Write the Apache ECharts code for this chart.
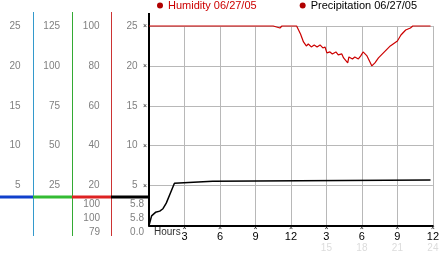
<!DOCTYPE html>
<html><head><meta charset="utf-8">
<script src="https://cdn.jsdelivr.net/npm/echarts@6/dist/echarts.min.js"></script>
<style>html,body{margin:0;padding:0;background:#fff}#c{width:442px;height:253px}</style>
</head><body><div id="c"></div>
<script>
// ---- data ----
const humHours = [0,10.5,10.66,11.07,11.24,12.48,12.64,12.81,13.06,13.14,13.3,13.47,13.72,13.97,14.21,14.46,14.7,14.88,15.04,15.3,15.5,15.8,16.0,16.3,16.45,16.6,16.8,16.9,17.2,17.4,17.7,17.9,18.1,18.26,18.43,18.68,18.84,18.93,19.1,19.4,19.9,20.4,21.0,21.3,21.7,22.1,22.3,23.8];
const humidity = [100,100,99,99,100,100,99,96,92,91,90,91,89.5,90.5,89.5,90.5,89,89.5,86.5,87,86,87,85.5,86,84,85,81.5,84.5,83.5,84.5,83.5,85,87,87,85,82,80,79,81.5,84,87,90,92.5,95.5,98,99,100,100];
const precHours = [0,0.22,0.55,0.91,1.18,1.46,1.82,2.15,2.23,5.37,5.45,23.8];
const precipitation = [0,1.2,1.65,1.8,2.1,2.8,4.1,5.3,5.55,5.55,5.7,5.7];
const hourTicks = [3,6,9,12,15,18,21,24];
const hourLabels = ['3','6','9','12','3','6','9','12'];
const hourLabels2 = ['','','','','15','18','21','24'];
const colATicks = [5,10,15,20,25];
const colBTicks = [25,50,75,100,125];
const humidityTicks = [20,40,60,80,100];
const precipTicks = [5,10,15,20,25];
const humidityStats = ['100','100','79'];
const precipStats = ['5.8','5.8','0.0'];
const legendNames = ['Humidity 06/27/05','Precipitation 06/27/05'];

const GREY = '#808080';
const FONT = 'Liberation Sans, Arial, sans-serif';
function zip(a,b){return a.map((v,i)=>[v,b[i]]);}
function labelAxis(ticks, offset){
  const step = ticks[1]-ticks[0];
  return {type:'value', gridIndex:0, position:'left', offset:offset, min:0, max:ticks[ticks.length-1], interval:step,
    axisLine:{show:false}, axisTick:{show:false}, splitLine:{show:false},
    axisLabel:{margin:0, color:GREY, fontSize:10, fontFamily:FONT, formatter:v=>ticks.indexOf(v)>=0?String(v):''}};
}
const chart = echarts.init(document.getElementById('c'));
const statsText = [];
[[humidityStats,100],[precipStats,144]].forEach(([arr,x])=>{
  arr.forEach((t,i)=>statsText.push({type:'text', right:442-x, top:199+i*14,
    style:{text:t, fill:GREY, font:'10px '+FONT, textAlign:'right'}}));
});
chart.setOption({
  animation:false,
  backgroundColor:'#fff',
  legend:{left:157, top:0, itemWidth:6, itemHeight:6, itemGap:43, icon:'circle', padding:0,
    textStyle:{fontSize:11, fontFamily:FONT},
    data:[{name:legendNames[0], itemStyle:{color:'#b00000'}, textStyle:{color:'#cc0000'}},
          {name:legendNames[1], itemStyle:{color:'#b00000'}, textStyle:{color:'#000'}}]},
  grid:{left:149, right:3, top:26, bottom:27},
  xAxis:{type:'value', min:0, max:24, interval:3,
    axisLine:{lineStyle:{color:'#000', width:2}}, axisTick:{show:false},
    splitLine:{lineStyle:{color:'#b8b8b8', width:1}},
    axisLabel:{margin:0, showMinLabel:false, fontFamily:FONT,
      formatter:v=>{const i=hourTicks.indexOf(v); if(i<0) return '';
        let s='{m|×}\n{a|'+hourLabels[i]+'}'; if(hourLabels2[i]) s+='\n{b|'+hourLabels2[i]+'}'; return s;},
      rich:{m:{fontSize:7, lineHeight:6, color:'#222', fontFamily:FONT},
            a:{fontSize:11, lineHeight:11, color:'#000', fontFamily:FONT},
            b:{fontSize:10, lineHeight:11, color:'#dcdcdc', fontFamily:FONT}}}},
  yAxis:[
    {type:'value', min:0, max:precipTicks[precipTicks.length-1], interval:precipTicks[1]-precipTicks[0], position:'left',
      axisLine:{show:true, lineStyle:{color:'#000', width:2}}, axisTick:{show:false},
      splitLine:{lineStyle:{color:'#b8b8b8', width:1}},
      axisLabel:{margin:2, fontSize:7, color:'#222', formatter:v=>v===0?'':'×'}},
    {type:'value', min:0, max:humidityTicks[humidityTicks.length-1], show:false},
    labelAxis(colATicks,128.5),
    labelAxis(colBTicks,89),
    labelAxis(humidityTicks,49.5),
    labelAxis(precipTicks,11.5)
  ],
  graphic:[
    {type:'line', shape:{x1:149,y1:13,x2:149,y2:26}, style:{stroke:'#000', lineWidth:2}},
    {type:'line', shape:{x1:33.5,y1:12,x2:33.5,y2:236}, style:{stroke:'#3399cc', lineWidth:1}},
    {type:'line', shape:{x1:72.5,y1:12,x2:72.5,y2:236}, style:{stroke:'#33aa33', lineWidth:1}},
    {type:'line', shape:{x1:111.5,y1:12,x2:111.5,y2:236}, style:{stroke:'#cc3333', lineWidth:1}},
    {type:'line', shape:{x1:0,y1:197,x2:33,y2:197}, style:{stroke:'#1040cc', lineWidth:3}},
    {type:'line', shape:{x1:33,y1:197,x2:72,y2:197}, style:{stroke:'#33bb33', lineWidth:3}},
    {type:'line', shape:{x1:72,y1:197,x2:111,y2:197}, style:{stroke:'#dd2222', lineWidth:3}},
    {type:'line', shape:{x1:111,y1:197,x2:149,y2:197}, style:{stroke:'#000', lineWidth:3}},
    {type:'text', left:154, top:227, style:{text:'Hours', fill:'#333', font:'10px '+FONT}}
  ].concat(statsText),
  series:[
    {name:legendNames[0], type:'line', yAxisIndex:1, data:zip(humHours,humidity), showSymbol:false, clip:false,
      lineStyle:{color:'#cc0000', width:1.2}, itemStyle:{color:'#cc0000'}},
    {name:legendNames[1], type:'line', yAxisIndex:0, data:zip(precHours,precipitation), showSymbol:false, clip:false,
      lineStyle:{color:'#000', width:1.5}, itemStyle:{color:'#000'}}
  ]
});
</script></body></html>
